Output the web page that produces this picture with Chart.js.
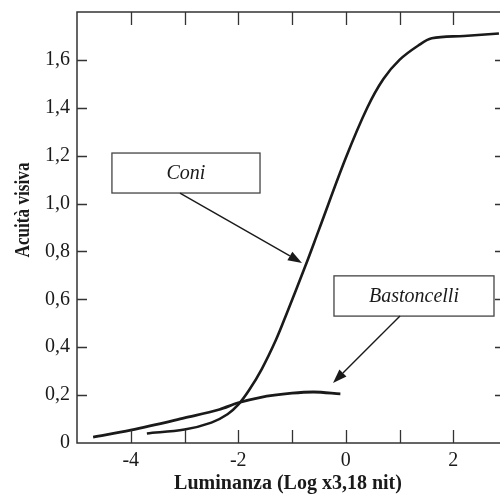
<!DOCTYPE html>
<html>
<head>
<meta charset="utf-8">
<script src="https://cdn.jsdelivr.net/npm/chart.js@4"></script>
<style>
  html, body { margin: 0; padding: 0; background: #fff; overflow: hidden; }
  .wrap { width: 520px; height: 497px; }
</style>
</head>
<body>
<div class="wrap"><canvas id="chart"></canvas></div>
<script>
// Curva dei coni (log luminanza, acuità)
const coniX = [-3.7, -3.0, -2.5, -2.2, -2.0, -1.8, -1.56, -1.3, -1.1, -0.75, -0.5, 0.0, 0.4, 0.7, 1.0, 1.35, 1.6, 2.2, 2.85];
const coniY = [0.04, 0.056, 0.085, 0.12, 0.16, 0.22, 0.31, 0.43, 0.54, 0.74, 0.89, 1.19, 1.40, 1.52, 1.60, 1.66, 1.69, 1.70, 1.71];

// Curva dei bastoncelli
const bastX = [-4.7, -4.0, -3.0, -2.35, -2.0, -1.6, -1.0, -0.6, -0.1];
const bastY = [0.025, 0.054, 0.105, 0.14, 0.168, 0.19, 0.208, 0.213, 0.205];

// tacche e etichette
const xTicks = [-4, -3, -2, -1, 0, 1, 2];
const xLabelValues = [-4, -2, 0, 2];
const xLabels = ["-4", "-2", "0", "2"];
const yTicks = [0.2, 0.4, 0.6, 0.8, 1.0, 1.2, 1.4, 1.6];
const yLabelValues = [0, 0.2, 0.4, 0.6, 0.8, 1.0, 1.2, 1.4, 1.6];
const yLabels = ["0", "0,2", "0,4", "0,6", "0,8", "1,0", "1,2", "1,4", "1,6"];

const serif = "'Liberation Serif', 'DejaVu Serif', serif";
const ink = "#1a1a1a";

// riquadri con freccia (in unità dei dati)
const notes = [
  { text: "Coni", box: [-4.35, 1.211, -1.595, 1.044], from: [-3.084, 1.044], to: [-0.814, 0.752] },
  { text: "Bastoncelli", box: [-0.219, 0.698, 2.758, 0.530], from: [1.009, 0.530], to: [-0.237, 0.251] },
];

const toPoints = (xs, ys) => xs.map((x, i) => ({ x: x, y: ys[i] }));

const decorPlugin = {
  id: "decor",
  afterDraw(chart) {
    const ctx = chart.ctx;
    const a = chart.chartArea;
    const sx = chart.scales.x;
    const sy = chart.scales.y;
    ctx.save();

    // cornice
    ctx.strokeStyle = "#333";
    ctx.lineWidth = 1.5;
    ctx.strokeRect(a.left, a.top, a.right - a.left, a.bottom - a.top);

    // tacche interne
    ctx.lineWidth = 1.3;
    ctx.beginPath();
    xTicks.forEach((v) => {
      const px = Math.round(sx.getPixelForValue(v)) + 0.5;
      ctx.moveTo(px, a.bottom);
      ctx.lineTo(px, a.bottom - 13);
      ctx.moveTo(px, a.top);
      ctx.lineTo(px, a.top + 13);
    });
    yTicks.forEach((v) => {
      const py = Math.round(sy.getPixelForValue(v)) + 0.5;
      ctx.moveTo(a.left, py);
      ctx.lineTo(a.left + 10, py);
      ctx.moveTo(a.right, py);
      ctx.lineTo(a.right - 12, py);
    });
    ctx.stroke();

    // riquadri e frecce
    notes.forEach((n) => {
      const x1 = sx.getPixelForValue(n.box[0]);
      const y1 = sy.getPixelForValue(n.box[1]);
      const x2 = sx.getPixelForValue(n.box[2]);
      const y2 = sy.getPixelForValue(n.box[3]);
      ctx.strokeStyle = "#444";
      ctx.lineWidth = 1.3;
      ctx.strokeRect(x1, y1, x2 - x1, y2 - y1);
      ctx.fillStyle = ink;
      ctx.font = "italic 20px " + serif;
      ctx.textAlign = "center";
      ctx.textBaseline = "middle";
      ctx.fillText(n.text, (x1 + x2) / 2, (y1 + y2) / 2 + 1);

      const fx = sx.getPixelForValue(n.from[0]);
      const fy = sy.getPixelForValue(n.from[1]);
      const tx = sx.getPixelForValue(n.to[0]);
      const ty = sy.getPixelForValue(n.to[1]);
      const ang = Math.atan2(ty - fy, tx - fx);
      const head = 14;
      const bx = tx - head * Math.cos(ang);
      const by = ty - head * Math.sin(ang);
      ctx.strokeStyle = ink;
      ctx.lineWidth = 1.4;
      ctx.beginPath();
      ctx.moveTo(fx, fy);
      ctx.lineTo(bx, by);
      ctx.stroke();
      ctx.beginPath();
      ctx.moveTo(tx, ty);
      ctx.lineTo(bx + 5 * Math.sin(ang), by - 5 * Math.cos(ang));
      ctx.lineTo(bx - 5 * Math.sin(ang), by + 5 * Math.cos(ang));
      ctx.closePath();
      ctx.fill();
    });

    // titoli degli assi
    ctx.fillStyle = ink;
    ctx.textAlign = "center";
    ctx.textBaseline = "middle";
    ctx.font = "bold 20px " + serif;
    ctx.fillText("Luminanza (Log x3,18 nit)", 288, 484);

    ctx.translate(23, 210);
    ctx.rotate(-Math.PI / 2);
    ctx.font = "bold 22px " + serif;
    const w = ctx.measureText("Acuità visiva").width;
    ctx.scale(95 / w, 1);
    ctx.fillText("Acuità visiva", 0, 0);
    ctx.restore();
  },
};

const ctx = document.getElementById("chart").getContext("2d");
const chart = new Chart(ctx, {
  type: "line",
  data: {
    datasets: [
      {
        label: "Coni",
        data: toPoints(coniX, coniY),
        borderColor: ink,
        borderWidth: 2.6,
        pointRadius: 0,
        tension: 0.35,
      },
      {
        label: "Bastoncelli",
        data: toPoints(bastX, bastY),
        borderColor: ink,
        borderWidth: 2.8,
        pointRadius: 0,
        cubicInterpolationMode: "monotone",
      },
    ],
  },
  options: {
    responsive: true,
    maintainAspectRatio: false,
    animation: false,
    layout: { padding: { top: 12, right: 13, left: 0, bottom: 0 } },
    plugins: {
      legend: { display: false },
      tooltip: { enabled: false },
    },
    scales: {
      x: {
        type: "linear",
        min: -5,
        max: 3,
        grid: { display: false, drawTicks: false },
        border: { display: false },
        afterFit: (scale) => {
          scale.height = 54;
          scale.paddingLeft = 0;
          scale.paddingRight = 0;
        },
        ticks: {
          stepSize: 1,
          autoSkip: false,
          maxRotation: 0,
          padding: 6,
          color: ink,
          font: { family: serif, size: 20 },
          callback: (v) => {
            const i = xLabelValues.indexOf(Math.round(v));
            return i >= 0 && Math.abs(v - Math.round(v)) < 1e-6 ? xLabels[i] : "";
          },
        },
      },
      y: {
        type: "linear",
        min: 0,
        max: 1.8,
        grid: { display: false, drawTicks: false },
        border: { display: false },
        afterFit: (scale) => {
          scale.width = 77;
          scale.paddingTop = 0;
          scale.paddingBottom = 0;
        },
        ticks: {
          stepSize: 0.2,
          autoSkip: false,
          padding: 7,
          color: ink,
          font: { family: serif, size: 20 },
          callback: (v) => {
            const i = yLabelValues.indexOf(Math.round(v * 10) / 10);
            return i >= 0 ? yLabels[i] : "";
          },
        },
      },
    },
  },
  plugins: [decorPlugin],
});
</script>
</body>
</html>
